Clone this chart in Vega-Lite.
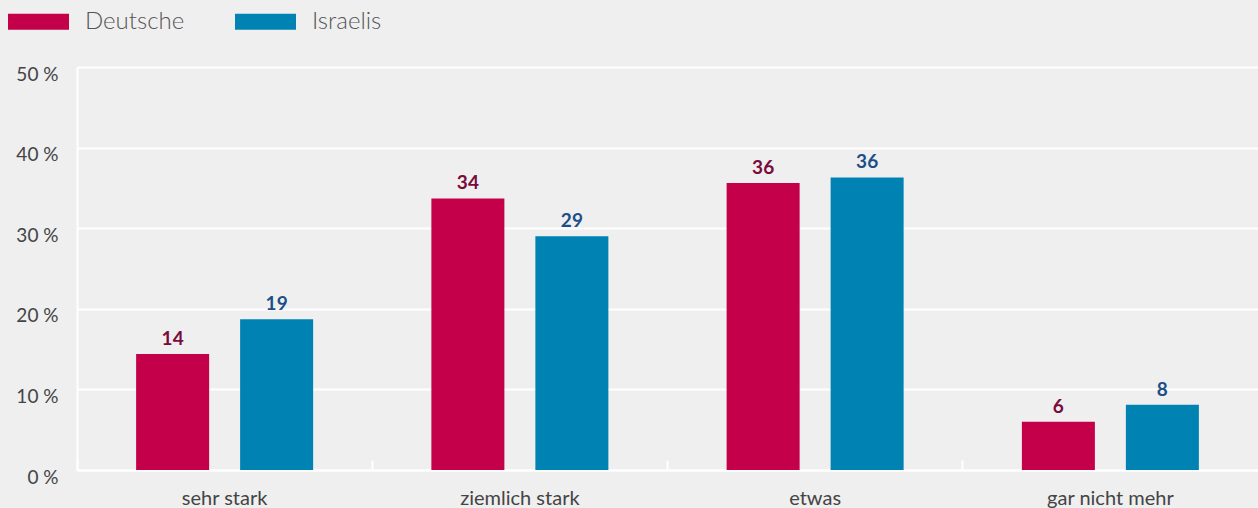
{
  "$schema": "https://vega.github.io/schema/vega-lite/v6.json",
  "width": 1181,
  "height": 403,
  "autosize": {"type": "none"},
  "padding": {"left": 77, "top": 67, "right": 0, "bottom": 38},
  "background": "#efefef",
  "config": {
    "font": "Lato",
    "view": {"stroke": null},
    "axis": {"labelFont": "Lato", "labelColor": "#444444", "title": null}
  },
  "data": {
    "values": [
      {"cat": "sehr stark", "group": "Deutsche", "value": 14.4},
      {"cat": "sehr stark", "group": "Israelis", "value": 18.7},
      {"cat": "ziemlich stark", "group": "Deutsche", "value": 33.7},
      {"cat": "ziemlich stark", "group": "Israelis", "value": 29.0},
      {"cat": "etwas", "group": "Deutsche", "value": 35.6},
      {"cat": "etwas", "group": "Israelis", "value": 36.3},
      {"cat": "gar nicht mehr", "group": "Deutsche", "value": 6.0},
      {"cat": "gar nicht mehr", "group": "Israelis", "value": 8.1}
    ]
  },
  "encoding": {
    "x": {
      "field": "cat", "type": "nominal",
      "sort": ["sehr stark", "ziemlich stark", "etwas", "gar nicht mehr"],
      "scale": {"paddingInner": 0, "paddingOuter": 0},
      "axis": {
        "labelAngle": 0, "domainColor": "#ffffff", "domainWidth": 2,
        "tickColor": "#ffffff", "tickWidth": 2, "tickSize": -10, "bandPosition": 0,
        "labelPadding": 28, "labelFontSize": 20
      }
    },
    "xOffset": {
      "field": "group", "type": "nominal", "sort": ["Deutsche", "Israelis"],
      "scale": {"paddingInner": 0.298, "paddingOuter": 0.5685}
    },
    "y": {
      "field": "value", "type": "quantitative",
      "scale": {"domain": [0, 50], "nice": false},
      "axis": {
        "values": [0, 10, 20, 30, 40, 50],
        "labelExpr": "datum.value + ' %'",
        "labelFontSize": 19, "labelOffset": 7,
        "gridColor": "#ffffff", "gridWidth": 2,
        "domainColor": "#ffffff", "domainWidth": 2,
        "ticks": false, "labelPadding": 19
      }
    }
  },
  "layer": [
    {
      "mark": {"type": "bar"},
      "encoding": {
        "color": {
          "field": "group", "type": "nominal",
          "scale": {"domain": ["Deutsche", "Israelis"], "range": ["#c5004a", "#0083b3"]},
          "legend": {
            "title": null, "orient": "none", "direction": "horizontal",
            "legendX": -69, "legendY": -76,
            "symbolType": "M-1,-0.262L1,-0.262L1,0.262L-1,0.262Z",
            "symbolSize": 3721, "symbolStrokeWidth": 0, "symbolOpacity": 1,
            "labelFont": "Lato", "labelFontWeight": 300, "labelFontSize": 24,
            "labelColor": "#555555", "labelOffset": 16, "columnPadding": 50
          }
        }
      }
    },
    {
      "mark": {"type": "text", "baseline": "bottom", "dy": -5, "fontWeight": "bold", "fontSize": 19, "font": "Lato"},
      "encoding": {
        "text": {"field": "value", "type": "quantitative", "format": ".0f"},
        "color": {
          "condition": {"test": "datum.group === 'Deutsche'", "value": "#7a0a3a"},
          "value": "#1c4f88"
        }
      }
    }
  ]
}
